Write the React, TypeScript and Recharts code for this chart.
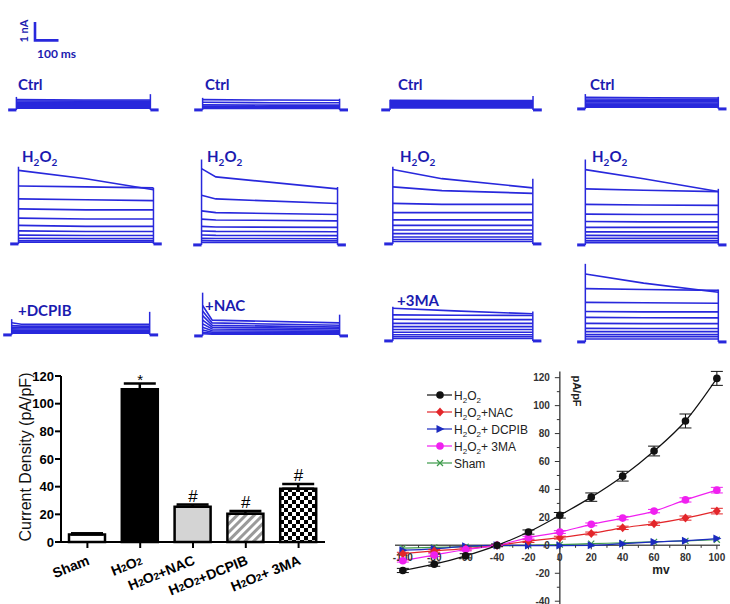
import React from 'react'
import {
  LineChart,
  Line,
  XAxis,
  YAxis,
  ReferenceLine,
  ReferenceDot,
  ComposedChart,
  Bar,
  Cell,
  ErrorBar,
  LabelList,
} from 'recharts'

const FONT = '"Liberation Sans", Arial, sans-serif'
const TRACE_FONT = 'Lato, "Open Sans", sans-serif'
const TRACE_BLUE = '#2828dc'
const LABEL_BLUE = '#1b1bb0'

// ---------- whole-cell traces (nA above holding, read against the 1 nA / 100 ms bar)
const PULSE_MS = 570
const T_MIN = -40
const T_MAX = 610
const I_MIN = -0.5
const I_MAX = 5.5
const TRACE_H = 110
const HOLD = -0.06

// each sweep: [start, mid, end]
const ctrl1 = [[0.5, 0.48, 0.48], [0.43, 0.42, 0.42], [0.36, 0.35, 0.35], [0.3, 0.29, 0.29], [0.24, 0.23, 0.23], [0.18, 0.17, 0.17], [0.12, 0.12, 0.12], [0.07, 0.07, 0.07], [0.03, 0.03, 0.03]]
const ctrl2 = [[0.5, 0.48, 0.47], [0.36, 0.33, 0.33], [0.22, 0.2, 0.2], [0.15, 0.14, 0.14], [0.1, 0.09, 0.09], [0.05, 0.05, 0.05], [0.02, 0.02, 0.02]]
const ctrl3 = [[0.46, 0.45, 0.45], [0.4, 0.4, 0.4], [0.35, 0.35, 0.35], [0.3, 0.3, 0.3], [0.25, 0.25, 0.25], [0.2, 0.2, 0.2], [0.15, 0.15, 0.15], [0.1, 0.1, 0.1], [0.05, 0.05, 0.05]]
const ctrl4 = [[0.58, 0.55, 0.54], [0.48, 0.47, 0.47], [0.4, 0.4, 0.4], [0.33, 0.33, 0.33], [0.26, 0.26, 0.26], [0.2, 0.2, 0.2], [0.14, 0.14, 0.14], [0.08, 0.08, 0.08], [0.03, 0.03, 0.03]]

const h2o2Sweeps1 = [[3.95, 3.5, 2.9], [3.1, 3.05, 3.0], [2.4, 2.35, 2.3], [1.85, 1.8, 1.8], [1.35, 1.3, 1.3], [0.95, 0.9, 0.9], [0.65, 0.62, 0.62], [0.42, 0.4, 0.4], [0.25, 0.24, 0.24], [0.12, 0.12, 0.12], [0.04, 0.04, 0.04]]
const h2o2Sweeps2 = [[4.1, 3.65, 3.0], [2.65, 2.45, 2.2], [1.8, 1.7, 1.6], [1.35, 1.3, 1.25], [0.95, 0.92, 0.9], [0.7, 0.68, 0.66], [0.48, 0.46, 0.45], [0.3, 0.29, 0.28], [0.18, 0.17, 0.17], [0.08, 0.08, 0.08]]
const h2o2Sweeps3 = [[4.0, 3.5, 3.0], [3.05, 2.85, 2.7], [2.15, 2.1, 2.1], [1.65, 1.65, 1.65], [1.25, 1.25, 1.25], [0.95, 0.95, 0.95], [0.7, 0.7, 0.7], [0.5, 0.5, 0.5], [0.32, 0.32, 0.32], [0.18, 0.18, 0.18], [0.07, 0.07, 0.07]]
const h2o2Sweeps4 = [[4.05, 3.55, 2.85], [3.0, 2.92, 2.85], [2.15, 2.12, 2.1], [1.62, 1.6, 1.6], [1.22, 1.2, 1.2], [0.9, 0.9, 0.9], [0.65, 0.65, 0.65], [0.46, 0.45, 0.45], [0.3, 0.3, 0.3], [0.16, 0.16, 0.16], [0.06, 0.06, 0.06]]

const dcpibSweeps = [[0.6, 0.52, 0.52], [0.45, 0.42, 0.42], [0.35, 0.33, 0.33], [0.27, 0.26, 0.26], [0.2, 0.19, 0.19], [0.13, 0.13, 0.13], [0.07, 0.07, 0.07], [0.03, 0.03, 0.03]]
const nacSweeps = [[1.6, 0.8, 0.65], [1.3, 0.65, 0.52], [1.05, 0.52, 0.42], [0.8, 0.42, 0.33], [0.6, 0.32, 0.25], [0.42, 0.22, 0.18], [0.26, 0.14, 0.12], [0.14, 0.08, 0.07], [0.06, 0.04, 0.03]]
const maSweeps = [[1.72, 1.58, 1.42], [1.36, 1.34, 1.33], [1.12, 1.1, 1.1], [0.9, 0.9, 0.9], [0.72, 0.72, 0.72], [0.56, 0.56, 0.56], [0.41, 0.41, 0.41], [0.28, 0.28, 0.28], [0.17, 0.17, 0.17], [0.07, 0.07, 0.07]]
const col4Sweeps = [[3.65, 3.15, 2.65], [2.85, 2.8, 2.75], [2.1, 2.08, 2.05], [1.6, 1.58, 1.58], [1.28, 1.26, 1.25], [0.95, 0.94, 0.94], [0.68, 0.67, 0.67], [0.5, 0.5, 0.5], [0.34, 0.34, 0.34], [0.22, 0.22, 0.22], [0.1, 0.1, 0.1]]

const traceSweeps = [ctrl1, ctrl2, ctrl3, ctrl4, h2o2Sweeps1, h2o2Sweeps2, h2o2Sweeps3, h2o2Sweeps4, dcpibSweeps, nacSweeps, maSweeps, col4Sweeps]
const onsetPeaks = [0.65, 0.6, 0.5, 0.75, 4.15, 4.6, 4.15, 4.6, 0.8, 2.3, 1.8, 4.2]
const offsetPeaks = [0.8, 0.55, 0.7, 0.6, 3.0, 3.1, 3.5, 3.0, 1.2, 1.1, 1.55, 2.8]
const midTimes = [285, 285, 285, 285, 285, 60, 200, 250, 40, 40, 250, 250]
const panelLabels = ['Ctrl', 'Ctrl', 'Ctrl', 'Ctrl', 'H2O2', 'H2O2', 'H2O2', 'H2O2', '+DCPIB', '+NAC', '+3MA', '']

// scale bar: 100 ms by 1 nA
const scaleMs = 100
const scaleNa = 1

// layout: pulse start px, pulse end px, baseline px
const traceBoxes = [
  [16, 150, 109], [203, 340, 109], [390, 533, 109], [585, 718, 108],
  [18, 153, 243], [202, 338, 244], [393, 533, 243], [585, 718, 244],
  [12, 150, 334], [203, 340, 335], [393, 533, 340], [585, 718, 341],
]
const labelSpots = [
  [18, 90], [205, 90], [398, 90], [590, 90],
  [22, 162], [207, 162], [400, 162], [592, 162],
  [18, 316], [205, 311], [397, 306], [0, 0],
]

// ---------- bar chart
const groups = ['Sham', 'H2O2', 'H2O2+NAC', 'H2O2+DCPIB', 'H2O2+ 3MA']
const density = [5.5, 110.5, 25.5, 20.5, 38.5]
const densityErr = [0.8, 4, 1.6, 2, 3.5]
const marks = ['', '*', '#', '#', '#']
const densityTicks = [0, 20, 40, 60, 80, 100, 120]
const barFills = ['#ffffff', '#000000', '#d4d4d4', 'url(#hatch)', 'url(#checker)']

// ---------- I-V curve
const voltages = [-100, -80, -60, -40, -20, 0, 20, 40, 60, 80, 100]
const ivH2O2 = [-18, -13.5, -7.5, 0, 9.5, 21.5, 34.5, 49.5, 67.5, 89, 119.5]
const ivH2O2Err = [1.5, 1.5, 1.5, 1, 1.5, 2, 3, 3.5, 3.5, 5, 5]
const ivNAC = [-6, -4, -2.4, 0, 3, 5.5, 8.5, 12.5, 15.5, 19.5, 24.5]
const ivNACErr = [1, 1, 1, 0.5, 1, 1, 1, 1.2, 1.2, 1.5, 2]
const ivDCPIB = [-3.5, -2.5, -0.7, 0, -0.2, -0.2, 0, 1.2, 2.4, 3.3, 4.8]
const ivMA = [-11, -7, -3, 0, 5.5, 9.5, 15, 19.5, 24.5, 32.5, 39.5]
const ivMAErr = [1, 1, 1, 0.5, 1, 1, 1, 1.2, 1.2, 1.5, 2]
const ivSham = [-2, -1.5, -1, -0.5, 0, 0.5, 1.2, 1.8, 2.5, 3.2, 4]
const ivXTicks = [-100, -80, -60, -40, -20, 0, 20, 40, 60, 80, 100]
const ivXMinor = [-90, -70, -50, -30, -10, 10, 30, 50, 70, 90]
const ivYTicks = [-40, -20, 0, 20, 40, 60, 80, 100, 120]
const ivYMinor = [-30, -10, 10, 30, 50, 70, 90, 110]

const ivSeries = [
  { key: 'h', name: 'H2O2', color: '#111111', marker: 'circle' },
  { key: 'nac', name: 'H2O2+NAC', color: '#e3262a', marker: 'diamond' },
  { key: 'dcpib', name: 'H2O2+ DCPIB', color: '#1c2bbf', marker: 'triangle' },
  { key: 'ma', name: 'H2O2+ 3MA', color: '#f020f0', marker: 'circle' },
  { key: 'sham', name: 'Sham', color: '#3d9a4a', marker: 'cross' },
]

function chemParts(label: string) {
  const parts: { t: string; sub: boolean }[] = []
  for (let i = 0; i < label.length; i++) {
    const ch = label[i]
    const sub = ch === '2' && (label[i - 1] === 'H' || label[i - 1] === 'O')
    const last = parts[parts.length - 1]
    if (last && last.sub === sub) last.t += ch
    else parts.push({ t: ch, sub })
  }
  return parts
}

function chemSpans(label: string, subSize: number, shift: number) {
  const parts = chemParts(label)
  return parts.map((p, i) => {
    const prevSub = i > 0 && parts[i - 1].sub
    const dy = p.sub ? shift : prevSub ? -shift : 0
    return (
      <tspan key={i} fontSize={p.sub ? subSize : undefined} dy={dy}>
        {p.t}
      </tspan>
    )
  })
}

function TracePanel({ index }: { index: number }) {
  const sweeps = traceSweeps[index]
  const [s, e, b] = traceBoxes[index]
  const pxPerMs = (e - s) / PULSE_MS
  const width = (T_MAX - T_MIN) * pxPerMs
  const left = s + T_MIN * pxPerMs
  const k = TRACE_H / (I_MAX - I_MIN)
  const top = b - I_MAX * k
  const mid = midTimes[index]
  return (
    <div style={{ position: 'absolute', left, top }}>
      <LineChart width={width} height={TRACE_H} margin={{ top: 0, right: 0, bottom: 0, left: 0 }}>
        <XAxis type="number" dataKey="t" domain={[T_MIN, T_MAX]} hide />
        <YAxis type="number" domain={[I_MIN, I_MAX]} hide />
        <Line data={[{ t: -35, v: HOLD }, { t: 0, v: HOLD }]} dataKey="v" stroke={TRACE_BLUE} strokeWidth={3} dot={false} isAnimationActive={false} />
        <Line data={[{ t: PULSE_MS, v: HOLD }, { t: PULSE_MS + 35, v: HOLD }]} dataKey="v" stroke={TRACE_BLUE} strokeWidth={3} dot={false} isAnimationActive={false} />
        {sweeps.map((sw, i) => (
          <Line
            key={i}
            data={[{ t: 0, v: sw[0] }, { t: mid, v: sw[1] }, { t: PULSE_MS, v: sw[2] }]}
            dataKey="v"
            stroke={TRACE_BLUE}
            strokeWidth={1.6}
            dot={false}
            isAnimationActive={false}
          />
        ))}
        <ReferenceLine segment={[{ x: 0, y: HOLD }, { x: 0, y: onsetPeaks[index] }]} stroke={TRACE_BLUE} strokeWidth={1.5} />
        <ReferenceLine segment={[{ x: PULSE_MS, y: HOLD }, { x: PULSE_MS, y: offsetPeaks[index] }]} stroke={TRACE_BLUE} strokeWidth={1.5} />
      </LineChart>
    </div>
  )
}

function ScaleBar() {
  const pxPerMs = (150 - 16) / PULSE_MS
  const k = TRACE_H / (I_MAX - I_MIN)
  const barLine = [
    { t: 0, v: scaleNa },
    { t: 0, v: 0 },
    { t: scaleMs, v: 0 },
  ]
  return (
    <div style={{ position: 'absolute', left: 32, top: 19 }}>
      <LineChart width={scaleMs * pxPerMs + 6} height={scaleNa * k + 6} margin={{ top: 3, right: 3, bottom: 3, left: 3 }}>
        <XAxis type="number" dataKey="t" domain={[0, scaleMs]} hide />
        <YAxis type="number" domain={[0, scaleNa]} hide />
        <Line data={barLine} dataKey="v" stroke={TRACE_BLUE} strokeWidth={2.6} dot={false} isAnimationActive={false} />
      </LineChart>
    </div>
  )
}

function GroupTick(props: any) {
  const { x, y, payload } = props
  const ax = x + 3
  const ay = y + 14
  return (
    <text x={ax} y={ay} textAnchor="end" transform={`rotate(-22 ${ax} ${ay})`} fontSize={14} fontWeight="bold" fill="#000" fontFamily={FONT}>
      {chemSpans(String(payload.value), 10, 0)}
    </text>
  )
}

function MarkLabel(props: any) {
  const { x, y, value } = props
  if (!value) return null
  const star = value === '*'
  return (
    <text x={x} y={star ? y + 1 : y - 3} textAnchor="middle" fontSize={star ? 15 : 17} fill="#000" fontFamily={FONT}>
      {value}
    </text>
  )
}

function DensityLabel(props: any) {
  const vb = props.viewBox
  const cx = vb.x + 25
  const cy = vb.y + vb.height / 2 - 2
  return (
    <text x={cx} y={cy} textAnchor="middle" dominantBaseline="central" transform={`rotate(-90 ${cx} ${cy})`} fontSize={16} fill="#111" fontFamily={FONT}>
      Current Density (pA/pF)
    </text>
  )
}

function DensityChart() {
  const barData = groups.map((g, i) => ({
    name: g,
    value: density[i],
    err: [0, densityErr[i]],
    top: density[i] + densityErr[i],
    mark: marks[i],
  }))
  return (
    <div style={{ position: 'absolute', left: 0, top: 360 }}>
      <ComposedChart width={340} height={244} data={barData} margin={{ top: 16, right: 15, bottom: 32, left: 0 }}>
        <XAxis
          dataKey="name"
          height={30}
          interval={0}
          tick={<GroupTick />}
          axisLine={{ stroke: '#000', strokeWidth: 2 }}
          tickLine={{ stroke: '#000', strokeWidth: 2 }}
          tickSize={6}
        />
        <YAxis
          type="number"
          domain={[0, 120]}
          ticks={densityTicks}
          width={61}
          tickSize={6}
          tickMargin={1}
          axisLine={{ stroke: '#000', strokeWidth: 2 }}
          tickLine={{ stroke: '#000', strokeWidth: 2 }}
          tick={{ fontSize: 13, fontWeight: 'bold', fill: '#000', fontFamily: FONT }}
          label={<DensityLabel />}
        />
        <Bar dataKey="value" barSize={36} stroke="#000" strokeWidth={2.5} isAnimationActive={false}>
          {barData.map((d, i) => (
            <Cell key={d.name} fill={barFills[i]} />
          ))}
          <ErrorBar dataKey="err" width={16} strokeWidth={2.5} stroke="#000" />
        </Bar>
        <Line dataKey="top" stroke="none" dot={false} activeDot={false} isAnimationActive={false}>
          <LabelList dataKey="mark" content={<MarkLabel />} />
        </Line>
      </ComposedChart>
    </div>
  )
}

function IvMarker({ kind, cx, cy, color }: { kind: string; cx: number; cy: number; color: string }) {
  if (cx == null || cy == null) return null
  if (kind === 'diamond')
    return <path d={`M${cx},${cy - 4.5}L${cx + 4},${cy}L${cx},${cy + 4.5}L${cx - 4},${cy}Z`} fill={color} />
  if (kind === 'triangle')
    return <path d={`M${cx + 4.5},${cy}L${cx - 3.5},${cy - 4}L${cx - 3.5},${cy + 4}Z`} fill={color} />
  if (kind === 'cross')
    return (
      <g stroke={color} strokeWidth={1.2}>
        <line x1={cx - 3} y1={cy - 3} x2={cx + 3} y2={cy + 3} />
        <line x1={cx - 3} y1={cy + 3} x2={cx + 3} y2={cy - 3} />
      </g>
    )
  return <circle cx={cx} cy={cy} r={3.8} fill={color} />
}

function IvLegend() {
  return (
    <svg width={150} height={92} style={{ position: 'absolute', left: 420, top: 384 }}>
      {ivSeries.map((s, i) => {
        const cy = 11 + i * 17
        return (
          <g key={s.key}>
            <line x1={7} y1={cy} x2={32} y2={cy} stroke={s.color} strokeWidth={1.2} />
            <IvMarker kind={s.marker} cx={20} cy={cy} color={s.color} />
            <text x={34} y={cy + 4.5} fontSize={12} fill="#222" fontFamily={FONT}>
              {chemSpans(s.name, 8, 3)}
            </text>
          </g>
        )
      })}
    </svg>
  )
}

function IvChart() {
  const ivData = voltages.map((v, i) => ({
    v,
    h: ivH2O2[i],
    hErr: ivH2O2Err[i],
    nac: ivNAC[i],
    nacErr: ivNACErr[i],
    dcpib: ivDCPIB[i],
    ma: ivMA[i],
    maErr: ivMAErr[i],
    sham: ivSham[i],
  }))
  const order = ['sham', 'dcpib', 'nac', 'ma', 'h']
  const errKey: Record<string, string> = { h: 'hErr', nac: 'nacErr', ma: 'maErr' }
  return (
    <div style={{ position: 'absolute', left: 380, top: 360 }}>
      <LineChart width={350} height={244} data={ivData} margin={{ top: 11.4, right: 10, bottom: 0, left: 15 }}>
        <XAxis type="number" dataKey="v" domain={[-105, 102]} hide />
        <YAxis type="number" domain={[-42, 124]} hide />
        <ReferenceLine y={0} stroke="#555" strokeWidth={1.5} />
        <ReferenceLine x={0} stroke="#222" strokeWidth={1.2} />
        {ivXMinor.map((v) => (
          <ReferenceDot key={'xm' + v} x={v} y={0} r={0} shape={(p: any) => <line x1={p.cx} y1={p.cy} x2={p.cx} y2={p.cy + 2.5} stroke="#333" />} />
        ))}
        {ivYMinor.map((v) => (
          <ReferenceDot key={'ym' + v} x={0} y={v} r={0} shape={(p: any) => <line x1={p.cx - 3} y1={p.cy} x2={p.cx} y2={p.cy} stroke="#333" />} />
        ))}
        {ivXTicks.map((v) => (
          <ReferenceDot
            key={'x' + v}
            x={v}
            y={0}
            r={0}
            shape={(p: any) => (
              <g>
                <line x1={p.cx} y1={p.cy} x2={p.cx} y2={p.cy + 4} stroke="#333" />
                <text x={p.cx} y={p.cy + 15.5} textAnchor="middle" fontSize={10} fontWeight="bold" fill="#333" fontFamily={FONT}>
                  {v}
                </text>
              </g>
            )}
          />
        ))}
        {ivYTicks.map((v) => (
          <ReferenceDot
            key={'y' + v}
            x={0}
            y={v}
            r={0}
            shape={(p: any) => (
              <g>
                <line x1={p.cx - 5} y1={p.cy} x2={p.cx} y2={p.cy} stroke="#333" />
                <text x={p.cx - 10} y={p.cy + 3.5} textAnchor="end" fontSize={10} fontWeight="bold" fill="#333" fontFamily={FONT}>
                  {v}
                </text>
              </g>
            )}
          />
        ))}
        {order.map((key) => {
          const s = ivSeries.find((x) => x.key === key)!
          return (
            <Line
              key={key}
              dataKey={key}
              type="monotone"
              stroke={s.color}
              strokeWidth={1.2}
              isAnimationActive={false}
              dot={(p: any) => <IvMarker key={key + p.index} kind={s.marker} cx={p.cx} cy={p.cy} color={s.color} />}
              activeDot={false}
            >
              {errKey[key] && <ErrorBar dataKey={errKey[key]} width={6} stroke={s.color} strokeWidth={1} />}
            </Line>
          )
        })}
      </LineChart>
      <svg width={350} height={244} style={{ position: 'absolute', left: 0, top: 0, pointerEvents: 'none' }}>
        <text x={281} y={214} textAnchor="middle" fontSize={12} fontWeight="bold" fill="#222" fontFamily={FONT}>
          mv
        </text>
        <text x={193} y={31} textAnchor="middle" transform="rotate(90 193 31)" fontSize={11} fontWeight="bold" fill="#222" fontFamily={FONT}>
          pA/pF
        </text>
      </svg>
    </div>
  )
}

export default function App() {
  return (
    <div style={{ position: 'absolute', left: 0, top: 0, width: 730, height: 604, background: '#fff', overflow: 'hidden', fontFamily: FONT }}>
      <svg width={0} height={0} style={{ position: 'absolute' }}>
        <defs>
          <pattern id="hatch" patternUnits="userSpaceOnUse" width={6} height={6} patternTransform="rotate(45)">
            <rect width={6} height={6} fill="#fff" />
            <line x1={1.5} y1={0} x2={1.5} y2={6} stroke="#9a9a9a" strokeWidth={3} />
          </pattern>
          <pattern id="checker" patternUnits="userSpaceOnUse" width={8} height={8}>
            <rect width={8} height={8} fill="#fff" />
            <rect width={4} height={4} fill="#000" />
            <rect x={4} y={4} width={4} height={4} fill="#000" />
          </pattern>
        </defs>
      </svg>
      <ScaleBar />
      {traceSweeps.map((_, i) => (
        <TracePanel key={i} index={i} />
      ))}
      <svg width={730} height={360} style={{ position: 'absolute', left: 0, top: 0, pointerEvents: 'none' }}>
        <text x={23} y={31} textAnchor="middle" dominantBaseline="central" transform="rotate(-90 23 31)" fontSize={11} fontWeight="bold" fill={LABEL_BLUE} fontFamily={TRACE_FONT}>
          1 nA
        </text>
        <text x={37} y={58} fontSize={12} fontWeight="bold" fill={LABEL_BLUE} fontFamily={TRACE_FONT}>
          100 ms
        </text>
        {panelLabels.map((l, i) =>
          l ? (
            <text key={i} x={labelSpots[i][0]} y={labelSpots[i][1]} fontSize={15} fontWeight="bold" fill={LABEL_BLUE} fontFamily={TRACE_FONT}>
              {chemSpans(l, 10, 4)}
            </text>
          ) : null
        )}
      </svg>
      <DensityChart />
      <IvChart />
      <IvLegend />
    </div>
  )
}
